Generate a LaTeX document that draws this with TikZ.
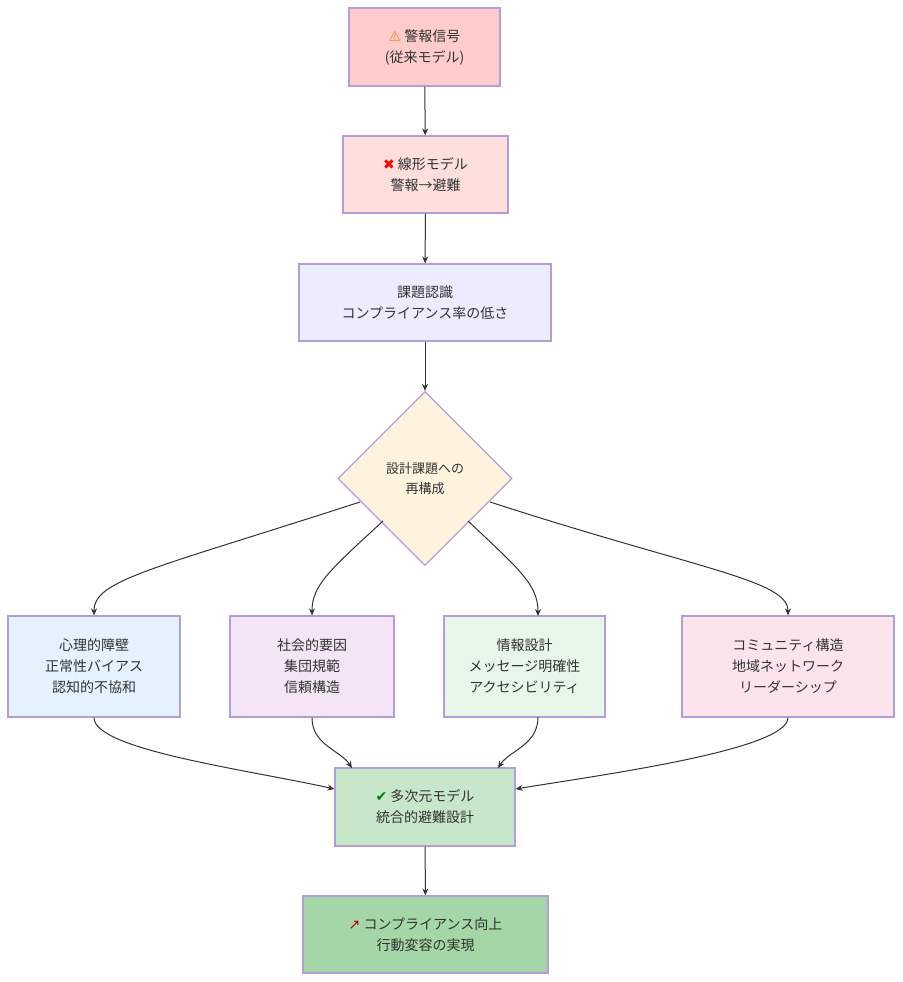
\documentclass[tikz,border=0pt]{standalone}
\usepackage{fontspec}
\setmainfont{Noto Sans CJK JP}
\newfontfamily\emo{DejaVu Sans}
\usetikzlibrary{shapes.geometric,arrows.meta}
\definecolor{bd}{HTML}{B39DDB}
\definecolor{ln}{HTML}{333333}
\definecolor{ca}{HTML}{FFCCCC}
\definecolor{cb}{HTML}{FFDEDE}
\definecolor{cc}{HTML}{ECECFF}
\definecolor{cd}{HTML}{FFF3E0}
\definecolor{ce1}{HTML}{E3F2FD}
\definecolor{ce2}{HTML}{F3E5F5}
\definecolor{ce3}{HTML}{E8F5E9}
\definecolor{ce4}{HTML}{FCE4EC}
\definecolor{cf}{HTML}{C8E6C9}
\definecolor{cg}{HTML}{A5D6A7}
\begin{document}
\begin{tikzpicture}[x=1pt,y=-1pt,
 box/.style={draw=bd,line width=1.2pt,align=center,font=\fontsize{14}{21}\selectfont,text=ln,inner sep=0pt,anchor=center},
 ar/.style={draw=ln,line width=1pt,-{Stealth[length=7pt,width=6pt]}}]
\useasboundingbox (0,0) rectangle (902,982);
\node[box,fill=ca,minimum width=151,minimum height=78] (a) at (424.5,47) {{\emo\color{orange}⚠} 警報信号\\(従来モデル)};
\node[box,fill=cb,minimum width=165,minimum height=77] (b) at (425.5,174.5) {{\emo\color{red}✖} 線形モデル\\警報→避難};
\node[box,fill=cc,minimum width=252,minimum height=77] (c) at (425,302.5) {課題認識\\コンプライアンス率の低さ};
\node[box,diamond,fill=cd,minimum width=174,minimum height=174,font=\fontsize{13}{20}\selectfont] (d) at (425,478.5) {設計課題への\\再構成};
\node[box,fill=ce1,minimum width=172,minimum height=101] (e1) at (94,666.5) {心理的障壁\\正常性バイアス\\認知的不協和};
\node[box,fill=ce2,minimum width=164,minimum height=101] (e2) at (312,666.5) {社会的要因\\集団規範\\信頼構造};
\node[box,fill=ce3,minimum width=161,minimum height=101] (e3) at (524.5,666.5) {情報設計\\メッセージ明確性\\アクセシビリティ};
\node[box,fill=ce4,minimum width=212,minimum height=101] (e4) at (788,666.5) {コミュニティ構造\\地域ネットワーク\\リーダーシップ};
\node[box,fill=cf,minimum width=180,minimum height=78] (f) at (425,807) {{\emo\color{green!50!black}✔} 多次元モデル\\統合的避難設計};
\node[box,fill=cg,minimum width=245,minimum height=77] (g) at (425.5,934.5) {{\emo\color{red!70!black}↗} コンプライアンス向上\\行動変容の実現};
\draw[ar] (a) -- (b);
\draw[ar] (b) -- (c);
\draw[ar] (c) -- (d);
\draw[ar] (360,502) .. controls (150,570) and (94,580) .. (e1.north);
\draw[ar] (383,521) .. controls (330,570) and (312,585) .. (e2.north);
\draw[ar] (468,521) .. controls (520,570) and (538,585) .. (538,616);
\draw[ar] (490,502) .. controls (700,570) and (788,580) .. (e4.north);
\draw[ar] (e1.south) .. controls (94,750) and (250,770) .. (f.west|-0,789);
\draw[ar] (e2.south) .. controls (312,745) and (340,750) .. (352,768);
\draw[ar] (538,717) .. controls (538,745) and (510,750) .. (498,768);
\draw[ar] (e4.south) .. controls (788,750) and (600,775) .. (f.east|-0,789);
\draw[ar] (f) -- (g);
\end{tikzpicture}
\end{document}
